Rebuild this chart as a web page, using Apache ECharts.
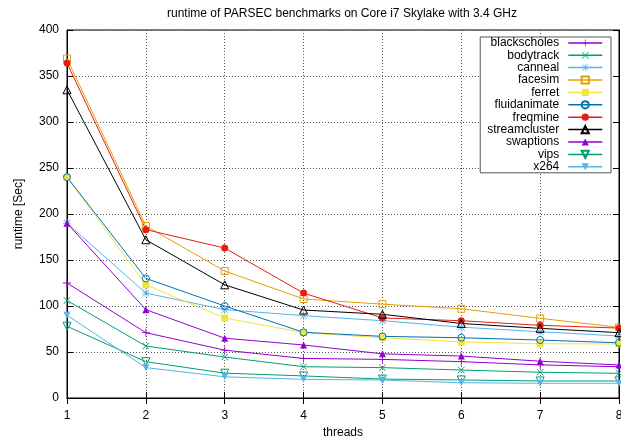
<!DOCTYPE html>
<html>
<head>
<meta charset="utf-8">
<script src="https://cdn.jsdelivr.net/npm/echarts@6/dist/echarts.min.js"></script>
<style>
  html, body { margin: 0; padding: 0; background: #fff; }
  #chart { width: 621px; height: 436px; }
</style>
</head>
<body>
<div id="chart"></div>
<script>
// Runtime (seconds) per benchmark for 1..8 threads
const threads = [1, 2, 3, 4, 5, 6, 7, 8];
const blackscholes  = [125, 71, 52, 43, 42, 39.5, 36, 34];
const bodytrack     = [106, 56.5, 44.5, 34, 33, 30.4, 28, 26.8];
const canneal       = [190, 114, 96, 89.5, 84, 77, 72, 67.4];
const facesim       = [369, 187, 138, 107.6, 102, 97, 86.6, 76.8];
const ferret        = [240, 123, 87, 71, 65.5, 61, 59, 58.7];
const fluidanimate  = [240, 130, 100, 71.4, 67, 65.5, 63, 60];
const freqmine      = [364, 183, 163, 114, 87, 84, 79, 76];
const streamcluster = [335, 172, 123, 95.6, 91, 81, 75.7, 71];
const swaptions     = [190, 96, 65, 57.6, 48, 45.6, 40, 35.9];
const vips          = [78, 39.5, 27, 24, 20.6, 19.6, 18.5, 18.5];
const x264          = [90, 33, 23, 20.3, 19.5, 16.6, 16, 16];

const yTicks = [0, 50, 100, 150, 200, 250, 300, 350, 400];

// Marker outlines (gnuplot-style point types)
const PLUS = 'path://M0,4.5H10V5.5H0Z M4.5,0H5.5V10H4.5Z';
const CROSS = 'path://M0.7,0L10,9.3L9.3,10L0,0.7Z M9.3,0L10,0.7L0.7,10L0,9.3Z';
const STAR = 'path://M0,4.5H10V5.5H0Z M4.5,0H5.5V10H4.5Z M1.2,0.5L9.5,8.8L8.8,9.5L0.5,1.2Z M8.8,0.5L9.5,1.2L1.2,9.5L0.5,8.8Z';
const TRI_UP = 'path://M5,0L10,9L0,9Z';
const TRI_DOWN = 'path://M0,0L10,0L5,9Z';

const FONT = 'Liberation Sans, Arial, Helvetica, sans-serif';

function makeSeries(name, values, color, symbol, size, hollow) {
  return {
    name: name,
    type: 'line',
    data: threads.map((t, i) => [t, values[i]]),
    symbol: symbol,
    symbolSize: size,
    showAllSymbol: true,
    lineStyle: { color: color, width: 1 },
    itemStyle: hollow
      ? { color: 'none', borderColor: color, borderWidth: 1 }
      : { color: color, borderWidth: 0 },
    emphasis: { disabled: true },
    animation: false
  };
}

const series = [
  makeSeries('blackscholes', blackscholes, '#9400d3', PLUS, 8, false),
  makeSeries('bodytrack', bodytrack, '#009e73', CROSS, 7, false),
  makeSeries('canneal', canneal, '#56b4e9', STAR, 8, false),
  makeSeries('facesim', facesim, '#e69f00', 'rect', 7, true),
  makeSeries('ferret', ferret, '#f0e442', 'rect', 7, false),
  makeSeries('fluidanimate', fluidanimate, '#0072b2', 'circle', 7, true),
  makeSeries('freqmine', freqmine, '#e51e10', 'circle', 7, false),
  makeSeries('streamcluster', streamcluster, '#000000', 'triangle', 8, true),
  makeSeries('swaptions', swaptions, '#9400d3', TRI_UP, 7, false),
  makeSeries('vips', vips, '#009e73', 'path://M0,0L10,0L5,9Z', 8, true),
  makeSeries('x264', x264, '#56b4e9', TRI_DOWN, 7, false)
];

const chart = echarts.init(document.getElementById('chart'), null, { renderer: 'canvas' });

const gridLine = { show: true, lineStyle: { color: '#555', type: [1, 2], width: 1 } };
const tickStyle = { show: true, inside: true, length: 6, lineStyle: { color: '#000' } };

chart.setOption({
  animation: false,
  backgroundColor: '#fff',
  textStyle: { fontFamily: FONT },
  title: {
    text: 'runtime of PARSEC benchmarks on Core i7 Skylake with 3.4 GHz',
    left: 162,
    top: 3,
    textStyle: { fontSize: 12, fontWeight: 'normal', color: '#000', fontFamily: FONT }
  },
  grid: {
    left: 67, right: 2, top: 30, bottom: 38,
    outerBoundsMode: 'none',
    containLabel: false,
    show: true, borderColor: '#000', borderWidth: 1, backgroundColor: 'transparent'
  },
  legend: {
    orient: 'vertical',
    align: 'right',
    right: 10,
    top: 37,
    itemWidth: 34,
    itemHeight: 9,
    itemGap: 0.3,
    padding: [0, 8, 0, 7],
    backgroundColor: '#fff',
    borderColor: '#555',
    borderWidth: 1,
    borderRadius: 0,
    selectedMode: false,
    lineStyle: { width: 1.5 },
    textStyle: { fontSize: 12, color: '#000', fontFamily: FONT, lineHeight: 12, padding: [0, 4, 0, 0] },
    data: series.map(s => s.name)
  },
  xAxis: [
    {
      type: 'value', min: 1, max: 8, interval: 1,
      name: 'threads', nameLocation: 'middle', nameGap: 29,
      nameTextStyle: { fontSize: 12, color: '#000', fontFamily: FONT },
      axisLine: { show: true, lineStyle: { color: '#000' } },
      axisTick: tickStyle,
      axisLabel: { fontSize: 12, color: '#000', margin: 12, fontFamily: FONT },
      splitLine: gridLine
    },
    {
      type: 'value', min: 1, max: 8, interval: 1, position: 'top',
      axisLine: { show: true, lineStyle: { color: '#000' } },
      axisTick: tickStyle,
      axisLabel: { show: false },
      splitLine: { show: false }
    }
  ],
  yAxis: [
    {
      type: 'value', min: yTicks[0], max: yTicks[yTicks.length - 1], interval: 50,
      name: 'runtime [Sec]', nameLocation: 'middle', nameGap: 42,
      nameTextStyle: { fontSize: 12, color: '#000', fontFamily: FONT },
      axisLine: { show: true, lineStyle: { color: '#000' } },
      axisTick: tickStyle,
      axisLabel: { fontSize: 12, color: '#000', margin: 8, fontFamily: FONT },
      splitLine: gridLine
    },
    {
      type: 'value', min: yTicks[0], max: yTicks[yTicks.length - 1], interval: 50, position: 'right',
      axisLine: { show: true, lineStyle: { color: '#000' } },
      axisTick: tickStyle,
      axisLabel: { show: false },
      splitLine: { show: false }
    }
  ],
  series: series
});
</script>
</body>
</html>
